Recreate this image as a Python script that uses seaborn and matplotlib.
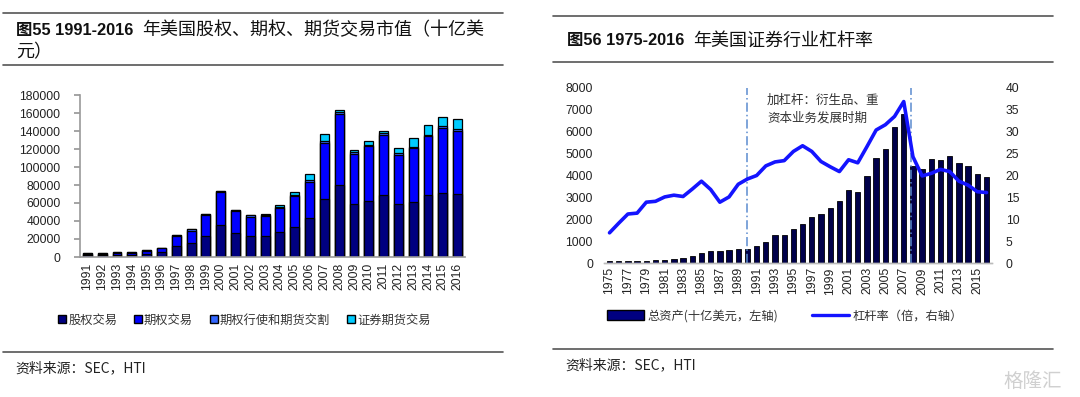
import numpy as np
import pandas as pd
import matplotlib
matplotlib.use("Agg")
import matplotlib.pyplot as plt
from matplotlib.lines import Line2D
import seaborn as sns

# ---------------- data: left chart (十亿美元) ----------------
years_left = [str(y) for y in range(1991, 2017)]
stock_trading = [1800, 1800, 2500, 2500, 3500, 5500, 12200, 15200, 23300, 35500,
                 26300, 23000, 23000, 27800, 33300, 43000, 64900, 80400, 58500, 62200,
                 68500, 58500, 61100, 68500, 71500, 70400]
option_trading = [1600, 1600, 2300, 2300, 3100, 4000, 11500, 14100, 23400, 36300,
                  24900, 21800, 22200, 26300, 34600, 40500, 62200, 78200, 56300, 60800,
                  67500, 55300, 59600, 65700, 71400, 69500]
exercise_delivery = [700, 700, 800, 800, 800, 900, 1200, 1500, 1500, 1500,
                     1500, 1500, 1500, 1500, 1500, 1800, 2000, 2200, 1500, 1500,
                     1500, 1800, 1000, 1500, 2600, 1800]
security_futures = [0, 0, 0, 0, 0, 0, 0, 0, 0, 0,
                    0, 0, 1500, 1800, 2500, 7400, 8000, 3000, 3000, 4000,
                    2500, 5500, 10500, 11000, 10000, 12000]
left_series = ["股权交易", "期权交易", "期权行使和期货交割", "证券期货交易"]
left_colors = ["#000080", "#0000FF", "#3366FF", "#00CCFF"]
left_yticks = list(range(0, 180001, 20000))

# ---------------- data: right chart ----------------
years_right = [str(y) for y in range(1975, 2017)]
total_assets = [80, 80, 90, 90, 100, 150, 160, 200, 250, 330,
                460, 530, 530, 600, 650, 650, 790, 970, 1300, 1300,
                1560, 1780, 2100, 2230, 2530, 2830, 3350, 3230, 3990, 4810,
                5200, 6210, 6790, 4430, 4300, 4770, 4690, 4870, 4550, 4430,
                4050, 3930]
leverage = [6.9, 9.1, 11.2, 11.4, 13.9, 14.1, 15.1, 15.5, 15.2, 16.9,
            18.7, 16.8, 13.9, 15.1, 18.0, 19.2, 20.0, 22.2, 23.1, 23.4,
            25.5, 26.8, 25.5, 23.2, 22.0, 20.9, 23.6, 22.9, 26.6, 30.4,
            31.6, 33.5, 36.9, 24.3, 19.9, 20.5, 21.4, 20.9, 18.7, 17.8,
            16.3, 16.1]
right_series = ["总资产(十亿美元，左轴)", "杠杆率（倍，右轴）"]
right_yticks_left = list(range(0, 8001, 1000))
right_yticks_right = list(range(0, 41, 5))
vline_years = [1990, 2007.8]

# ---------------- style ----------------
sns.set_theme(style="white")
plt.rcParams["font.family"] = ["Liberation Sans", "Noto Sans CJK SC", "DejaVu Sans"]
CJK = ["Noto Sans CJK SC", "DejaVu Sans"]
TITLE_FONT = ["Liberation Sans", "Noto Sans CJK SC"]

W, H = 1080, 397
fig = plt.figure(figsize=(W / 100, H / 100), dpi=100)
fig.patch.set_facecolor("white")


def fx(px):
    return px / W


def fy(py):
    return 1 - py / H


def hline(x0, x1, y, lw=1.2, color="#555555"):
    fig.add_artist(Line2D([fx(x0), fx(x1)], [fy(y), fy(y)], color=color, lw=lw,
                          transform=fig.transFigure))


# ---------------- left chart ----------------
axL = fig.add_axes([fx(80), fy(257), fx(465) - fx(80), fy(95) - fy(257)])
s1 = np.array(stock_trading)
s2 = s1 + np.array(option_trading)
s3 = s2 + np.array(exercise_delivery)
s4 = s3 + np.array(security_futures)
for vals, col in [(s4, left_colors[3]), (s3, left_colors[2]), (s2, left_colors[1]), (s1, left_colors[0])]:
    sns.barplot(x=years_left, y=vals, color=col, saturation=1, width=0.6,
                edgecolor="black", linewidth=0.9, ax=axL)
axL.set_xlim(-0.5, len(years_left) - 0.5)
axL.set_ylim(0, 180000)
axL.set_yticks(left_yticks)
axL.set_yticklabels([str(v) for v in left_yticks], fontsize=8.7, color="#222222")
axL.set_xticks(range(len(years_left)))
axL.set_xticklabels(years_left, rotation=90, fontsize=8.7, color="#222222")
axL.set_xticks(np.arange(-0.5, len(years_left), 1), minor=True)
axL.tick_params(axis="x", which="major", length=0, pad=4)
axL.tick_params(axis="x", which="minor", length=4, color="#999999", direction="out")
axL.tick_params(axis="y", length=4, color="#999999", direction="out", left=True, pad=10)
axL.set_xlabel("")
axL.set_ylabel("")
for sp in ["top", "right"]:
    axL.spines[sp].set_visible(False)
for sp in ["left", "bottom"]:
    axL.spines[sp].set_color("#999999")
    axL.spines[sp].set_linewidth(1.2)

handlesL = [Line2D([], [], marker="s", linestyle="none", markersize=6,
                   markerfacecolor=c, markeredgecolor="black", markeredgewidth=1.0)
            for c in left_colors]
legL = fig.legend(handlesL, left_series, loc="center", bbox_to_anchor=(fx(242), fy(320)),
                  ncol=4, frameon=False, handletextpad=-0.2, columnspacing=1.0,
                  handlelength=1.4, prop={"family": CJK, "size": 8.8})
for t in legL.get_texts():
    t.set_color("#333333")

# ---------------- right chart ----------------
axR = fig.add_axes([fx(604), fy(263), fx(992) - fx(604), fy(88) - fy(263)])
sns.barplot(x=years_right, y=total_assets, color="#00004a", saturation=1, width=0.58,
            edgecolor="black", linewidth=0.6, ax=axR)
axR2 = axR.twinx()
sns.lineplot(x=np.arange(len(years_right)), y=leverage, color="#1414ff", lw=2.6, ax=axR2)
for yv in vline_years:
    pos = yv - 1975
    axR.axvline(pos, color="#5b8bd0", lw=1.1, linestyle=(0, (6, 2, 1, 2)))
axR.set_xlim(-0.6, len(years_right) - 0.4)
axR2.set_xlim(-0.6, len(years_right) - 0.4)
axR.set_ylim(0, 8000)
axR2.set_ylim(0, 40)
axR.set_yticks(right_yticks_left)
axR.set_yticklabels([str(v) for v in right_yticks_left], fontsize=8.7, color="#222222")
axR2.set_yticks(right_yticks_right)
axR2.set_yticklabels([str(v) for v in right_yticks_right], fontsize=8.7, color="#222222")
axR.set_xticks(range(0, len(years_right), 2))
axR.set_xticklabels(years_right[::2], rotation=90, fontsize=8.7, color="#222222")
axR.tick_params(axis="x", length=0, pad=3)
axR.tick_params(axis="y", length=0, pad=8)
axR2.tick_params(axis="y", length=0, pad=10)
axR.set_xlabel("")
axR.set_ylabel("")
axR2.set_xlabel("")
axR2.set_ylabel("")
for a in (axR, axR2):
    for sp in ["top", "right", "left"]:
        a.spines[sp].set_visible(False)
    a.spines["bottom"].set_color("#bbbbbb")
    a.spines["bottom"].set_linewidth(1.0)

fig.text(fx(767), fy(100), "加杠杆：衍生品、重", fontsize=9, color="#333333",
         family=CJK, va="center", ha="left")
fig.text(fx(767), fy(118), "资本业务发展时期", fontsize=9, color="#333333",
         family=CJK, va="center", ha="left")

handlesR = [plt.Rectangle((0, 0), 1, 1, facecolor="#000080", edgecolor="black", lw=1),
            Line2D([], [], color="#1414ff", lw=2.4)]
legR = fig.legend(handlesR, right_series, loc="center", bbox_to_anchor=(fx(785), fy(316)),
                  ncol=2, frameon=False, handlelength=3.0, handleheight=0.9,
                  handletextpad=0.3, columnspacing=2.8,
                  prop={"family": CJK, "size": 8.8})
for t in legR.get_texts():
    t.set_color("#333333")

# ---------------- titles, rules, sources ----------------
hline(3, 503, 13)
hline(3, 503, 65)
hline(3, 503, 352)
hline(553, 1053, 16)
hline(553, 1053, 62)
hline(553, 1053, 349)

renderer = fig.canvas.get_renderer()


def title(x, y, bold_part, rest):
    t = fig.text(fx(x), fy(y), bold_part, fontsize=11.8, fontweight="bold",
                 family=TITLE_FONT, color="#111111", va="center", ha="left")
    ext = t.get_window_extent(renderer=renderer)
    fig.text(fx(ext.x1 + 9), fy(y), rest, fontsize=13, family=CJK,
             color="#111111", va="center", ha="left")


title(16, 30, "图55 1991-2016", "年美国股权、期权、期货交易市值（十亿美")
fig.text(fx(16), fy(52), "元）", fontsize=13, family=CJK,
         color="#111111", va="center", ha="left")
title(567, 41, "图56 1975-2016", "年美国证券行业杠杆率")

fig.text(fx(15), fy(368), "资料来源：SEC，HTI", fontsize=10, family=CJK,
         color="#222222", va="center", ha="left")
fig.text(fx(565), fy(365), "资料来源：SEC，HTI", fontsize=10, family=CJK,
         color="#222222", va="center", ha="left")
fig.text(fx(1062), fy(381), "格隆汇", fontsize=14, family=CJK, color="#d0d0d0",
         va="center", ha="right")

fig.savefig("out.png", dpi=100, facecolor="white")
